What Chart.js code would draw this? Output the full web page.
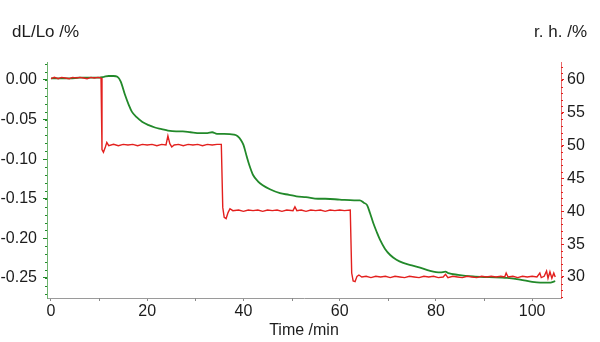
<!DOCTYPE html>
<html>
<head>
<meta charset="utf-8">
<script src="https://cdn.jsdelivr.net/npm/chart.js@4/dist/chart.umd.min.js"></script>
<style>
  html, body { margin: 0; padding: 0; background: #fff; }
  #wrap { width: 600px; height: 342px; position: relative; }
</style>
</head>
<body>
<div id="wrap"><canvas id="dilatometer"></canvas></div>
<script>
// dL/Lo (%) against time (min)
const dlTime = [0, 2, 4, 6, 8, 10, 11, 12, 13, 13.8, 14.5, 15.4, 16.2, 16.8, 17.8, 19, 20.3, 21.6, 23, 24.3,
  26, 27.4, 29, 31, 32.5, 33.5, 34.5, 36, 38, 38.8, 39.5, 40, 40.7, 41.3, 42, 43, 44, 45.5, 47.6, 49.5,
  51, 53, 55.5, 57, 60, 63, 64.2, 65, 65.7, 66.3, 67, 67.7, 68.4, 69.4, 70.5, 71.8, 73.2, 75, 76.7, 78.8,
  80.9, 82, 82.6, 84.6, 87.7, 91, 94.8, 97.5, 100, 101.7, 103.5, 104.8]
const dlValue = [0.002, 0.002, 0.002, 0.003, 0.003, 0.003, 0.004, 0.005, 0.005, 0.004, -0.002, -0.019, -0.032, -0.040, -0.047, -0.053, -0.057, -0.060, -0.062, -0.064,
  -0.065, -0.065, -0.066, -0.067, -0.067, -0.066, -0.068, -0.068, -0.069, -0.071, -0.076, -0.082, -0.097, -0.109, -0.120, -0.128, -0.133, -0.138, -0.143, -0.145,
  -0.147, -0.148, -0.150, -0.150, -0.151, -0.152, -0.152, -0.155, -0.158, -0.168, -0.181, -0.192, -0.202, -0.213, -0.221, -0.227, -0.231, -0.234, -0.237, -0.241,
  -0.243, -0.242, -0.244, -0.246, -0.248, -0.249, -0.250, -0.252, -0.255, -0.256, -0.256, -0.254]

// relative humidity (%) against time (min)
const rhTime = [0, 0.7, 1.5, 2.2, 3.0, 3.8, 4.5, 5.3, 6.0, 6.8, 7.5, 8.3, 9.0, 9.8, 10.4,
  10.6, 10.9, 11.3, 11.6, 12.0,
  13, 14, 15, 16, 17, 18, 19, 20, 21, 22, 23, 23.9, 24.3, 24.7, 25.1, 25.6, 26.5, 27.5, 28.5, 29.5,
  30.5, 31.5, 32.5, 33.5, 34.5, 35.4,
  35.7, 36.0, 36.4, 36.8, 37.2, 37.8,
  39, 40, 41, 42, 43, 44, 45, 46, 47, 48, 49, 50.3, 50.7, 51.1, 52, 53, 54, 55, 56, 57, 58, 59, 60, 61, 62.2,
  62.5, 62.8, 63.2, 63.6, 64.0, 64.6,
  65.5, 66.5, 67.5, 68.5, 69.5, 70.5, 71.5, 72.5, 73.5, 74.5, 75.5, 76.5, 77.5, 78.5, 79.5, 80.5, 81.5, 82.0, 82.5,
  83.5, 84.5, 85.5, 86.5, 87.5, 88.5, 89.5, 90.5, 91.5, 92.5, 93.5, 94.3, 94.6, 95.0, 96, 97, 98, 99, 100, 101,
  101.6, 101.9, 102.5, 103.0, 103.3, 103.7, 104.1, 104.5, 104.8]
const rhValue = [60.2, 60.4, 60.2, 60.4, 60.3, 60.2, 60.4, 60.3, 60.4, 60.3, 60.2, 60.4, 60.3, 60.4, 60.3,
  49.4, 49.0, 49.8, 50.5, 50.0,
  50.2, 50.0, 50.2, 50.1, 50.2, 50.0, 50.2, 50.1, 50.2, 50.0, 50.2, 50.1, 51.5, 50.3, 49.8, 50.1, 50.2, 50.0, 50.2, 50.1,
  50.2, 50.0, 50.2, 50.1, 50.2, 50.2,
  40.6, 39.1, 38.9, 39.8, 40.4, 40.1,
  40.2, 40.0, 40.2, 40.1, 40.2, 40.0, 40.2, 40.1, 40.2, 40.0, 40.2, 40.1, 40.7, 40.1, 40.2, 40.0, 40.2, 40.1, 40.2, 40.0, 40.2, 40.1, 40.2, 40.1, 40.2,
  30.6, 29.4, 29.3, 30.1, 30.3, 30.0,
  30.1, 29.9, 30.1, 30.0, 30.1, 29.9, 30.1, 30.0, 29.9, 30.1, 30.0, 29.9, 30.1, 30.0, 30.1, 29.9, 30.0, 30.4, 29.9,
  30.1, 30.0, 29.9, 30.1, 30.0, 29.9, 30.1, 30.0, 30.1, 30.0, 30.1, 30.0, 30.6, 30.0, 30.1, 29.9, 30.1, 30.0, 30.1, 30.0,
  30.6, 29.9, 30.1, 30.9, 29.8, 30.8, 29.8, 30.6, 30.0]

const timeTicks = [0, 20, 40, 60, 80, 100]
const dlTicks = [0, -0.05, -0.10, -0.15, -0.20, -0.25]
const rhTicks = [30, 35, 40, 45, 50, 55, 60]

const green = '#22892a'
const red = '#e3201e'
const textColor = '#1c1c1c'

Chart.defaults.font.family = "'Liberation Sans', Arial, sans-serif"
Chart.defaults.font.size = 16
Chart.defaults.color = textColor

const toPoints = (xs, ys) => xs.map((x, i) => ({x: x, y: ys[i]}))
const fixTicks = (values) => (scale) => { scale.ticks = values.map(v => ({value: v})) }

// small ticks between the labelled ones, plus the two axis headings
const extras = {
  id: 'extras',
  afterDraw(chart) {
    const {ctx, chartArea, scales} = chart
    ctx.save()
    ctx.lineWidth = 1

    ctx.strokeStyle = green
    for (let v = -0.27; v <= 0.0201; v += 0.01) {
      const y = Math.round(scales.dl.getPixelForValue(v)) + 0.5
      ctx.beginPath(); ctx.moveTo(chartArea.left - 2, y); ctx.lineTo(chartArea.left, y); ctx.stroke()
    }
    ctx.strokeStyle = red
    for (let v = 27; v <= 62; v++) {
      const y = Math.round(scales.rh.getPixelForValue(v)) + 0.5
      ctx.beginPath(); ctx.moveTo(chartArea.right, y); ctx.lineTo(chartArea.right + 2, y); ctx.stroke()
    }
    ctx.strokeStyle = '#8a8a8a'
    for (let v = 10; v <= 100; v += 20) {
      const x = Math.round(scales.x.getPixelForValue(v)) + 0.5
      ctx.beginPath(); ctx.moveTo(x, chartArea.bottom); ctx.lineTo(x, chartArea.bottom + 3); ctx.stroke()
    }

    ctx.fillStyle = textColor
    ctx.font = "17px 'Liberation Sans', Arial, sans-serif"
    ctx.textBaseline = 'middle'
    ctx.textAlign = 'left'
    ctx.fillText('dL/Lo /%', 12, 32)
    ctx.textAlign = 'right'
    ctx.fillText('r. h. /%', 587, 32)
    ctx.restore()
  }
}

new Chart(document.querySelector('#dilatometer'), {
  type: 'line',
  data: {
    datasets: [
      {
        label: 'dL/Lo',
        data: toPoints(dlTime, dlValue),
        yAxisID: 'dl',
        borderColor: green,
        borderWidth: 1.8,
        pointRadius: 0,
        cubicInterpolationMode: 'monotone',
        order: 1
      },
      {
        label: 'r. h.',
        data: toPoints(rhTime, rhValue),
        yAxisID: 'rh',
        borderColor: red,
        borderWidth: 1.4,
        pointRadius: 0,
        tension: 0,
        order: 0
      }
    ]
  },
  options: {
    responsive: true,
    maintainAspectRatio: false,
    animation: false,
    layout: {padding: {top: 62, left: 0, right: 0, bottom: 0}},
    plugins: {legend: {display: false}, tooltip: {enabled: false}},
    scales: {
      x: {
        type: 'linear',
        min: -0.83,
        max: 106,
        afterBuildTicks: fixTicks(timeTicks),
        afterFit: (s) => { s.height = 44 },
        grid: {drawOnChartArea: false, tickLength: 3, tickColor: '#8a8a8a'},
        border: {color: '#9a9a9a'},
        ticks: {padding: 1, maxRotation: 0, color: textColor},
        title: {display: true, text: 'Time /min', padding: {top: 0, bottom: 2}, color: textColor}
      },
      dl: {
        type: 'linear',
        position: 'left',
        min: -0.2753,
        max: 0.0227,
        afterBuildTicks: fixTicks(dlTicks),
        afterFit: (s) => { s.width = 47 },
        grid: {drawOnChartArea: false, tickLength: 4, tickColor: green},
        border: {color: '#6fb46f'},
        ticks: {padding: 6, color: textColor, callback: (v) => v.toFixed(2)}
      },
      rh: {
        type: 'linear',
        position: 'right',
        min: 26.8,
        max: 62.74,
        afterBuildTicks: fixTicks(rhTicks),
        afterFit: (s) => { s.width = 39 },
        grid: {drawOnChartArea: false, tickLength: 3, tickColor: red},
        border: {color: '#e66a6a'},
        ticks: {padding: 3, color: textColor}
      }
    }
  },
  plugins: [extras]
})
</script>
</body>
</html>
